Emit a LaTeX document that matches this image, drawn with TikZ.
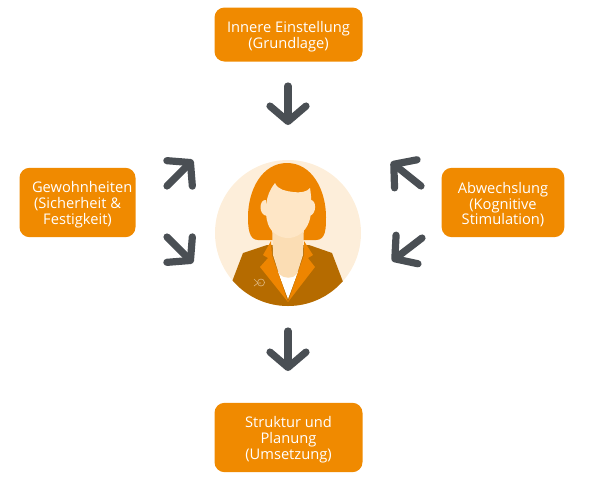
\documentclass[tikz,border=0pt]{standalone}
\usepackage{fontspec}
\setmainfont{Open Sans}
\usetikzlibrary{arrows.meta}
\definecolor{boxorange}{HTML}{F08A00}
\definecolor{arrowgrey}{HTML}{4A4F54}
\definecolor{halo}{HTML}{FDEEDA}
\definecolor{skin}{HTML}{FEE6C6}
\definecolor{skindark}{HTML}{FBDDB4}
\definecolor{jacket}{HTML}{B56B00}
\definecolor{hair}{HTML}{EE8500}
\newcommand{\boxnudge}{\mbox{}\\[-0.3pt]}
\tikzset{
    topicbox/.style={fill=boxorange, rounded corners=7.5, text=white, align=center, inner sep=0pt, font=\fontsize{11}{11.8}\selectfont},
    bigarrow/.style={draw=arrowgrey, line width=5.4, line cap=round, -{Straight Barb[length=11.5, width=27, line width=5.4, round]}},
}
\begin{document}
\begin{tikzpicture}[x=0.75pt, y=-0.75pt]
    \useasboundingbox (0,0) rectangle (600,487);

    \node[topicbox, minimum width=111, minimum height=40.5] (einstellung) at (288.5,34.5) {\boxnudge Innere Einstellung\\(Grundlage)};
    \node[topicbox, minimum width=87, minimum height=52] (gewohnheit) at (77.5,202.5) {\boxnudge\hspace*{7pt}Gewohnheiten\\(Sicherheit \&\\Festigkeit)};
    \node[topicbox, minimum width=92, minimum height=52] (abwechslung) at (503,202.5) {\boxnudge Abwechslung\\(Kognitive\\Stimulation)};
    \node[topicbox, minimum width=111, minimum height=52] (struktur) at (288.5,437.5) {\boxnudge Struktur und\\Planung\\(Umsetzung)};

    \coordinate (topstart) at (288,86);
    \coordinate (topend) at (288,125);
    \coordinate (botstart) at (288,331);
    \coordinate (botend) at (288,371);
    \coordinate (luas) at (167,186);
    \coordinate (luae) at (193,160);
    \coordinate (ldas) at (167,237);
    \coordinate (ldae) at (193,263);
    \coordinate (ruas) at (421,186);
    \coordinate (ruae) at (391,162);
    \coordinate (rdas) at (422,238);
    \coordinate (rdae) at (392,261);

    \draw[bigarrow] (topstart) -- (topend);
    \draw[bigarrow] (botstart) -- (botend);
    \draw[bigarrow] (luas) -- (luae);
    \draw[bigarrow] (ldas) -- (ldae);
    \draw[bigarrow] (ruas) -- (ruae);
    \draw[bigarrow] (rdas) -- (rdae);

    % portrait
    \fill[halo] (288,233) circle (73);
    \begin{scope}
        \clip (288,233) circle (73);
        % hair
        \fill[hair] (270,240) -- (258,240) .. controls (249,240) and (248,228) .. (248,217) .. controls (248,190) and (262,163) .. (287,163) .. controls (312,163) and (326,190) .. (326,217) .. controls (326,228) and (326,240) .. (316,240) -- (305,240) -- cycle;
        % jacket
        \fill[jacket] (230,287) -- (243,253) -- (267,245) -- (309,245) -- (332,253) -- (345,287) -- (330,310) -- (244,310) -- cycle;
        \fill[white] (278,272) -- (298,272) -- (288,299) -- cycle;
        % lapels
        \fill[hair] (271,241) -- (263,255) -- (268,258) -- (260,267) -- (288,302) -- (279,275) -- (272,255) -- cycle;
        \fill[hair] (304,241) -- (313,255) -- (308,258) -- (315,267) -- (288,302) -- (297,275) -- (304,255) -- cycle;
        % neck
        \fill[skindark] (272,225) -- (304,225) -- (303,255) -- (297,274) .. controls (293,279) and (284,279) .. (279,274) -- (273,255) -- cycle;
        % ears and face
        \fill[skin] (266,200) .. controls (259,199) and (258,215) .. (267,216) -- cycle;
        \fill[skin] (310,200) .. controls (317,199) and (317,215) .. (309,216) -- cycle;
        \fill[skin] (275,183) .. controls (278,190) and (286,191) .. (293,192) .. controls (300,193) and (307,192) .. (310,188) .. controls (312,200) and (312,214) .. (309,222) .. controls (305,233) and (296,238) .. (288,238) .. controls (280,238) and (271,233) .. (268,224) .. controls (264,212) and (265,195) .. (275,183) -- cycle;
    \end{scope}
    % badge on the jacket
    \draw[jacket!45!halo, line width=0.5] (254,279) -- (258,283) -- (254,286) (258,283) -- (261,283);
    \draw[jacket!45!halo, line width=0.5] (261,282.5) circle (3.5);
\end{tikzpicture}
\end{document}
